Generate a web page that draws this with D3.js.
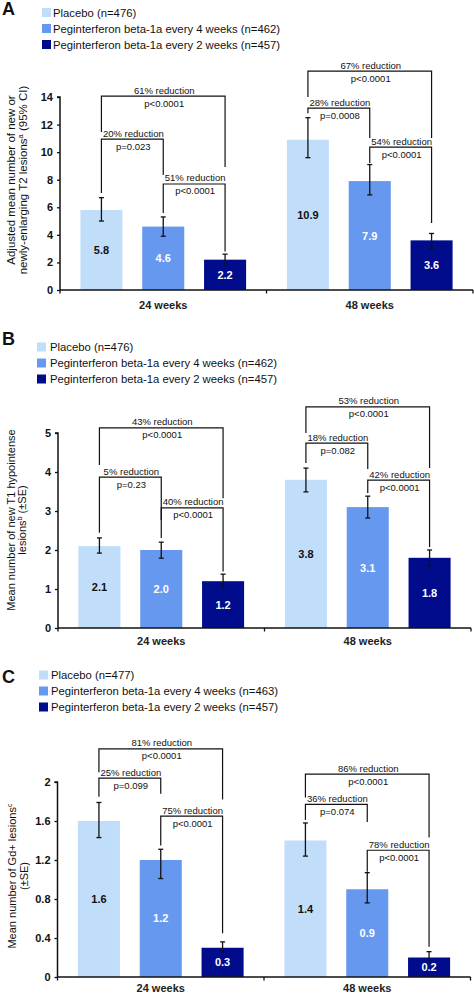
<!DOCTYPE html>
<html><head><meta charset="utf-8">
<script src="https://cdn.jsdelivr.net/npm/d3@7"></script>
<style>
body{margin:0;background:#fff;}
svg{display:block;font-family:"Liberation Sans",Arial,Helvetica,sans-serif;}
</style>
</head><body>
<svg id="chart" width="474" height="993"></svg>
<script>
// ---------- DATA ----------
const groups = ["24 weeks", "48 weeks"];
const seriesNames = ["Placebo", "Peginterferon beta-1a every 4 weeks", "Peginterferon beta-1a every 2 weeks"];
const seriesColors = ["#c0defa", "#6698ef", "#000c8c"];
const valueLabelColors = ["#111111", "#ffffff", "#ffffff"];

const panelLetters = ["A", "B", "C"];
const nA = [476, 462, 457];
const nB = [476, 462, 457];
const nC = [477, 463, 457];

// values per group: [placebo, q4w, q2w]
const valuesA = [[5.8, 4.6, 2.2], [10.9, 7.9, 3.6]];
const lowA    = [[5.0, 3.9, 1.9], [9.6, 6.9, 3.0]];
const highA   = [[6.7, 5.3, 2.6], [12.5, 9.1, 4.1]];
const ticksA  = [0, 2, 4, 6, 8, 10, 12, 14];

const valuesB = [[2.1, 2.0, 1.2], [3.8, 3.1, 1.8]];
const lowB    = [[1.92, 1.79, 1.05], [3.49, 2.82, 1.59]];
const highB   = [[2.31, 2.2, 1.38], [4.1, 3.38, 2.0]];
const ticksB  = [0, 1, 2, 3, 4, 5];

const valuesC = [[1.6, 1.2, 0.3], [1.4, 0.9, 0.2]];
const lowC    = [[1.43, 1.01, 0.26], [1.24, 0.76, 0.16]];
const highC   = [[1.79, 1.31, 0.36], [1.58, 1.07, 0.26]];
const ticksC  = [0, 0.4, 0.8, 1.2, 1.6, 2];

const titleA = [[["Adjusted mean number of new or", false]], [["newly-enlarging T2 lesions", false], ["a", true], [" (95% CI)", false]]];
const titleB = [[["Mean number of new T1 hypointense", false]], [["lesions", false], ["b", true], [" (\u00b1SE)", false]]];
const titleC = [[["Mean number of Gd+ lesions", false], ["c", true]], [["(\u00b1SE)", false]]];

// comparisons: group index, from bar, to bar, bracket level / leg ends (data units), texts
const compA = [
  {g: 0, a: 0, b: 2, top: 14.07, endA: 11.46, endB: 8.92, label: "61% reduction", p: "p<0.0001"},
  {g: 0, a: 0, b: 1, top: 10.95, endA: 7.03, endB: 8.34, label: "20% reduction", p: "p=0.023"},
  {g: 0, a: 1, b: 2, top: 7.69, endA: 5.58, endB: 2.8, label: "51% reduction", p: "p<0.0001"},
  {g: 1, a: 0, b: 2, top: 15.88, endA: 14.0, endB: 11.02, label: "67% reduction", p: "p<0.0001"},
  {g: 1, a: 0, b: 1, top: 13.2, endA: 12.83, endB: 11.02, label: "28% reduction", p: "p=0.0008"},
  {g: 1, a: 1, b: 2, top: 10.37, endA: 9.21, endB: 4.86, label: "54% reduction", p: "p<0.0001"}
];
const compB = [
  {g: 0, a: 0, b: 2, top: 5.13, endA: 4.18, endB: 3.33, label: "43% reduction", p: "p<0.0001"},
  {g: 0, a: 0, b: 1, top: 3.87, endA: 2.44, endB: 2.77, label: "5% reduction", p: "p=0.23"},
  {g: 0, a: 1, b: 2, top: 3.08, endA: 2.31, endB: 1.45, label: "40% reduction", p: "p<0.0001"},
  {g: 1, a: 0, b: 2, top: 5.67, endA: 5.0, endB: 4.1, label: "53% reduction", p: "p<0.0001"},
  {g: 1, a: 0, b: 1, top: 4.74, endA: 4.23, endB: 4.08, label: "18% reduction", p: "p=0.082"},
  {g: 1, a: 1, b: 2, top: 3.79, endA: 3.46, endB: 2.08, label: "42% reduction", p: "p<0.0001"}
];
const compC = [
  {g: 0, a: 0, b: 2, top: 2.34, endA: 2.1, endB: 1.82, label: "81% reduction", p: "p<0.0001"},
  {g: 0, a: 0, b: 1, top: 2.04, endA: 1.85, endB: 1.88, label: "25% reduction", p: "p=0.099"},
  {g: 0, a: 1, b: 2, top: 1.65, endA: 1.35, endB: 0.45, label: "75% reduction", p: "p<0.0001"},
  {g: 1, a: 0, b: 2, top: 2.08, endA: 1.84, endB: 1.43, label: "86% reduction", p: "p<0.0001"},
  {g: 1, a: 0, b: 1, top: 1.77, endA: 1.61, endB: 1.59, label: "36% reduction", p: "p=0.074"},
  {g: 1, a: 1, b: 2, top: 1.30, endA: 1.08, endB: 0.31, label: "78% reduction", p: "p<0.0001"}
];

// ---------- LAYOUT ----------
const panels = [
  {letter: panelLetters[0], n: nA, values: valuesA, low: lowA, high: highA, ticks: ticksA, fmt: d3.format("d"), title: titleA, comps: compA,
   y0: 290, yTop: 97, xL: 60, xR: 473, letterY: 15, legX: 42, legY: 12.5, legTextX: 53, titleX: 14.5, titleY: 180, titleSize: 11.5, xLabY: 309},
  {letter: panelLetters[1], n: nB, values: valuesB, low: lowB, high: highB, ticks: ticksB, fmt: d3.format("d"), title: titleB, comps: compB,
   y0: 628, yTop: 433, xL: 58, xR: 471, letterY: 345, legX: 37, legY: 347, legTextX: 50, titleX: 14.5, titleY: 520, titleSize: 11, xLabY: 645},
  {letter: panelLetters[2], n: nC, values: valuesC, low: lowC, high: highC, ticks: ticksC, fmt: d => d === 0 || d === 2 ? d3.format("d")(d) : d3.format(".1f")(d), title: titleC, comps: compC,
   y0: 977, yTop: 782, xL: 57.5, xR: 470.5, letterY: 683, legX: 39, legY: 675, legTextX: 51, titleX: 16, titleY: 876, titleSize: 11, xLabY: 992}
];

const svg = d3.select("#chart");

panels.forEach(P => {
  const g = svg.append("g");
  const y = d3.scaleLinear().domain([0, d3.max(P.ticks)]).range([P.y0, P.yTop]);
  const xG = d3.scaleBand().domain(groups).range([P.xL, P.xR]).padding(0);
  const xS = d3.scaleBand().domain([0, 1, 2]).range([0, xG.bandwidth()]).paddingInner(0.32).paddingOuter(0.33);
  const cx = (gi, si) => xG(groups[gi]) + xS(si) + xS.bandwidth() / 2;

  // panel letter
  g.append("text").attr("x", 2).attr("y", P.letterY).attr("font-size", 18).attr("font-weight", "bold").attr("fill", "#111").text(P.letter);

  // legend
  const leg = g.append("g");
  seriesNames.forEach((s, i) => {
    const cy = P.legY + i * 16;
    leg.append("rect").attr("x", P.legX).attr("y", cy - 4.5).attr("width", 9).attr("height", 9).attr("fill", seriesColors[i]);
    leg.append("text").attr("x", P.legTextX).attr("y", cy).attr("dy", "0.36em").attr("font-size", 11.3).attr("fill", "#111")
      .text(`${s} (n=${P.n[i]})`);
  });

  // bars
  const barData = [];
  P.values.forEach((vals, gi) => vals.forEach((v, si) => barData.push({gi, si, v, lo: P.low[gi][si], hi: P.high[gi][si]})));
  g.selectAll("rect.bar").data(barData).enter().append("rect").attr("class", "bar")
    .attr("x", d => xG(groups[d.gi]) + xS(d.si))
    .attr("width", xS.bandwidth())
    .attr("y", d => y(d.v))
    .attr("height", d => y(0) - y(d.v))
    .attr("fill", d => seriesColors[d.si]);

  // value labels
  g.selectAll("text.val").data(barData).enter().append("text").attr("class", "val")
    .attr("x", d => cx(d.gi, d.si)).attr("y", d => (y(d.v) + y(0)) / 2).attr("dy", "0.36em")
    .attr("text-anchor", "middle").attr("font-size", 11).attr("font-weight", "bold")
    .attr("fill", d => valueLabelColors[d.si]).text(d => d3.format(".1f")(d.v));

  // error bars
  const eb = g.append("g").attr("stroke", "#111").attr("stroke-width", 1.3).attr("fill", "none");
  barData.forEach(d => {
    const x = cx(d.gi, d.si);
    eb.append("line").attr("x1", x).attr("x2", x).attr("y1", y(d.lo)).attr("y2", y(d.hi));
    eb.append("line").attr("x1", x - 2.5).attr("x2", x + 2.5).attr("y1", y(d.lo)).attr("y2", y(d.lo));
    eb.append("line").attr("x1", x - 2.5).attr("x2", x + 2.5).attr("y1", y(d.hi)).attr("y2", y(d.hi));
  });

  // brackets
  const br = g.append("g");
  P.comps.forEach(c => {
    const xa = cx(c.g, c.a), xb = cx(c.g, c.b);
    const path = d3.path();
    path.moveTo(xa, y(c.endA)); path.lineTo(xa, y(c.top)); path.lineTo(xb, y(c.top)); path.lineTo(xb, y(c.endB));
    br.append("path").attr("d", path.toString()).attr("fill", "none").attr("stroke", "#111").attr("stroke-width", 1.2);
    const mx = (xa + xb) / 2 + 1;
    br.append("text").attr("x", mx).attr("y", y(c.top) - 2.5).attr("text-anchor", "middle").attr("font-size", 9.5).attr("fill", "#111").text(c.label);
    br.append("text").attr("x", mx).attr("y", y(c.top) + 10.5).attr("text-anchor", "middle").attr("font-size", 9.5).attr("fill", "#111").text(c.p);
  });

  // y axis
  const yAxis = d3.axisLeft(y).tickValues(P.ticks).tickSize(3).tickPadding(4).tickFormat(P.fmt);
  const ya = g.append("g").attr("transform", `translate(${P.xL},0)`).call(yAxis);
  ya.select(".domain").attr("stroke", "#111").attr("stroke-width", 1.5).attr("d", `M-3,${y(d3.max(P.ticks))}H0V${y(0)}`);
  ya.selectAll(".tick line").attr("stroke", "#111").attr("stroke-width", 1.3);
  ya.selectAll(".tick text").attr("font-size", 11).attr("font-weight", "bold").attr("fill", "#111").attr("font-family", "Liberation Sans, Arial, sans-serif");

  // x axis
  const xa = g.append("g").attr("transform", `translate(0,${P.y0})`);
  xa.append("line").attr("x1", P.xL).attr("x2", P.xR).attr("stroke", "#111").attr("stroke-width", 1.5);
  [P.xL, xG(groups[1]), P.xR].forEach(t => xa.append("line").attr("x1", t).attr("x2", t).attr("y1", 0).attr("y2", 3.5).attr("stroke", "#111").attr("stroke-width", 1.3));
  groups.forEach(gr => {
    g.append("text").attr("x", xG(gr) + xG.bandwidth() / 2).attr("y", P.xLabY).attr("text-anchor", "middle")
      .attr("font-size", 11).attr("font-weight", "bold").attr("fill", "#222").text(gr);
  });

  // y title
  const t = g.append("text").attr("transform", `translate(${P.titleX},${P.titleY}) rotate(-90)`)
    .attr("text-anchor", "middle").attr("font-size", P.titleSize).attr("fill", "#111");
  P.title.forEach((line, li) => {
    const ln = t.append("tspan").attr("x", 0).attr("y", li * (P.titleSize + 0.5));
    line.forEach(([txt, sup]) => {
      const s = ln.append("tspan").text(txt);
      if (sup) s.attr("font-size", P.titleSize * 0.65).attr("baseline-shift", "super");
    });
  });
});
</script>
</body></html>
